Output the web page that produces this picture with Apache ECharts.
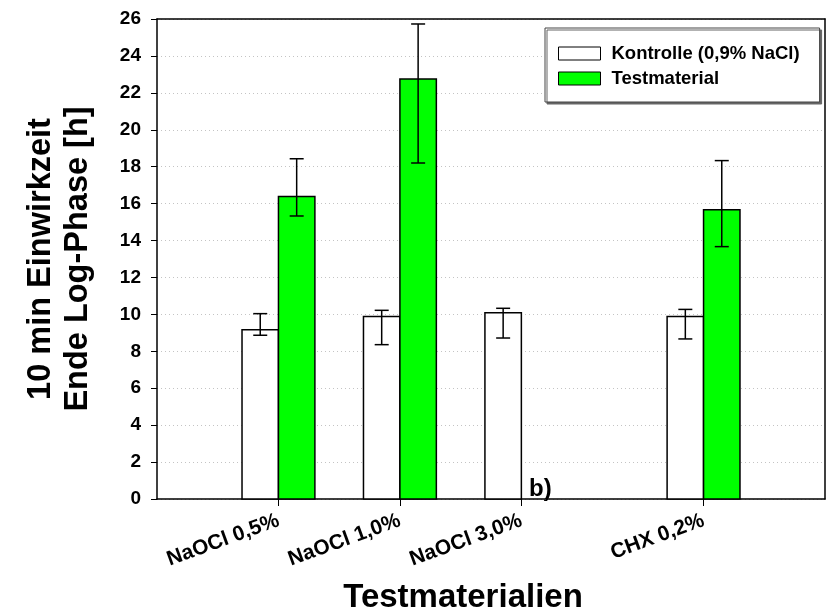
<!DOCTYPE html>
<html>
<head>
<meta charset="utf-8">
<script src="https://cdn.jsdelivr.net/npm/echarts@6/dist/echarts.min.js"></script>
<style>
  html, body { margin: 0; padding: 0; background: #fff; }
  #chart { width: 828px; height: 613px; }
</style>
</head>
<body>
<div id="chart"></div>
<script>
// chart data
const categories = ['NaOCl 0,5%', 'NaOCl 1,0%', 'NaOCl 3,0%', 'CHX 0,2%'];
const xPos = [0, 1, 2, 3.5]; // x value of each group on the original axis
const kontrolle = [9.17, 9.88, 10.09, 9.88];
const kontrolleLow = [8.87, 8.36, 8.72, 8.67];
const kontrolleHigh = [10.04, 10.22, 10.33, 10.27];
const testmaterial = [16.38, 22.75, null, 15.67];
const testLow = [15.33, 18.2, null, 13.67];
const testHigh = [18.43, 25.73, null, 18.33];

const FONT = 'Liberation Sans, Arial, sans-serif';
const HALF = 0.15; // half bar width in axis units

function rows(vals, lo, hi) {
    const out = [];
    vals.forEach((v, i) => {
        if (v == null) return;
        out.push([xPos[i], v, lo[i], hi[i]]);
    });
    return out;
}

function barRenderer(side, fill) {
    return function (params, api) {
        const cx = api.value(0) + side * HALF;
        const v = api.value(1);
        const tl = api.coord([cx - HALF, v]);
        const br = api.coord([cx + HALF, 0]);
        const lo = api.coord([cx, api.value(2)]);
        const hi = api.coord([cx, api.value(3)]);
        const cap = 7;
        const err = { stroke: '#000', lineWidth: 1.5 };
        return {
            type: 'group',
            children: [
                {
                    type: 'rect',
                    shape: { x: tl[0], y: tl[1], width: br[0] - tl[0], height: br[1] - tl[1] },
                    style: { fill: fill, stroke: '#000', lineWidth: 1.5 }
                },
                { type: 'line', shape: { x1: lo[0], y1: lo[1], x2: hi[0], y2: hi[1] }, style: err },
                { type: 'line', shape: { x1: hi[0] - cap, y1: hi[1], x2: hi[0] + cap, y2: hi[1] }, style: err },
                { type: 'line', shape: { x1: lo[0] - cap, y1: lo[1], x2: lo[0] + cap, y2: lo[1] }, style: err }
            ]
        };
    };
}

const chart = echarts.init(document.getElementById('chart'));

const frameAxis = {
    axisLine: { show: true, onZero: false, lineStyle: { color: '#000', width: 1.5 } },
    axisTick: { show: false },
    axisLabel: { show: false },
    splitLine: { show: false }
};

const option = {
    animation: false,
    textStyle: { fontFamily: FONT },
    grid: { left: 157, right: 3, top: 19, bottom: 114, outerBoundsMode: 'none' },
    legend: {
        orient: 'vertical',
        left: 545,
        top: 28,
        padding: [16, 20, 14, 13],
        itemWidth: 42,
        itemHeight: 13,
        itemGap: 6,
        backgroundColor: '#fff',
        borderColor: '#444',
        borderWidth: 1,
        shadowColor: '#666',
        shadowOffsetX: 2,
        shadowOffsetY: 2,
        shadowBlur: 0,
        textStyle: {
            fontSize: 18.5, fontWeight: 'bold', color: '#000', fontFamily: FONT,
            lineHeight: 17, padding: [0, 0, 0, 6]
        },
        data: [
            { name: 'Kontrolle (0,9% NaCl)', icon: 'rect', itemStyle: { color: '#fff', borderColor: '#000', borderWidth: 1 } },
            { name: 'Testmaterial', icon: 'rect', itemStyle: { color: '#00ff00', borderColor: '#000', borderWidth: 1 } }
        ]
    },
    xAxis: [
        {
            type: 'value',
            min: -1,
            max: 4.5,
            name: 'Testmaterialien',
            nameLocation: 'middle',
            nameGap: 82,
            nameTextStyle: { fontSize: 33, fontWeight: 'bold', color: '#000', fontFamily: FONT, padding: [0, 56, 0, 0] },
            axisLine: { onZero: false, lineStyle: { color: '#000', width: 1.5 } },
            axisTick: { show: true, length: 7, customValues: xPos, lineStyle: { color: '#000', width: 1 } },
            axisLabel: {
                customValues: xPos,
                rotate: 20,
                margin: 21,
                fontSize: 21,
                fontWeight: 'bold',
                color: '#000',
                fontFamily: FONT,
                formatter: (val) => categories[xPos.indexOf(val)] || ''
            },
            splitLine: { show: false }
        },
        Object.assign({ type: 'value', position: 'top', min: -1, max: 4.5 }, frameAxis)
    ],
    yAxis: [
        {
            type: 'value',
            min: 0,
            max: 26,
            interval: 2,
            name: '10 min Einwirkzeit\nEnde Log-Phase [h]',
            nameLocation: 'middle',
            nameGap: 60,
            nameTextStyle: { fontSize: 32.5, fontWeight: 'bold', color: '#000', fontFamily: FONT, lineHeight: 37 },
            axisLine: { show: true, onZero: false, lineStyle: { color: '#000', width: 1.5 } },
            axisTick: { show: true, length: 6, lineStyle: { color: '#000', width: 1 } },
            axisLabel: { margin: 16, fontSize: 19, fontWeight: 'bold', color: '#000', fontFamily: FONT },
            splitLine: { show: true, lineStyle: { color: '#c4c4c4', type: [1, 3], width: 1 } }
        },
        Object.assign({ type: 'value', position: 'right', min: 0, max: 26 }, frameAxis)
    ],
    graphic: [
        {
            type: 'text',
            left: 529,
            top: 477,
            style: { text: 'b)', fontSize: 24, fontWeight: 'bold', fill: '#000', fontFamily: FONT }
        }
    ],
    series: [
        {
            name: 'Kontrolle (0,9% NaCl)',
            type: 'custom',
            xAxisIndex: 0,
            yAxisIndex: 0,
            encode: { x: 0, y: 1 },
            itemStyle: { color: '#fff', borderColor: '#000' },
            data: rows(kontrolle, kontrolleLow, kontrolleHigh),
            renderItem: barRenderer(-1, '#fff')
        },
        {
            name: 'Testmaterial',
            type: 'custom',
            xAxisIndex: 0,
            yAxisIndex: 0,
            encode: { x: 0, y: 1 },
            itemStyle: { color: '#00ff00', borderColor: '#000' },
            data: rows(testmaterial, testLow, testHigh),
            renderItem: barRenderer(1, '#00ff00')
        }
    ]
};

chart.setOption(option);
</script>
</body>
</html>
